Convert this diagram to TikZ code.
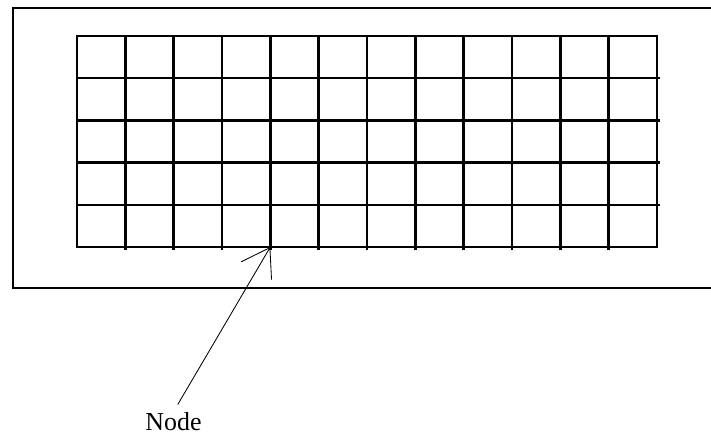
\documentclass[tikz,border=0pt]{standalone}
\usepackage{fontspec}
\setmainfont{Liberation Serif}
\usetikzlibrary{arrows.meta}

\tikzset{
    frameline/.style={line width=1.7pt},
    gridline/.style={line width=1.7pt},
    pointer/.style={line width=0.6pt, shorten <=6pt,
        -{Straight Barb[length=19pt, width=25pt]}},
    tag/.style={font=\fontsize{18.4}{22}\selectfont, anchor=base, inner sep=0pt}
}

\begin{document}
\begin{tikzpicture}[x=0.025cm, y=-0.025cm]

        \useasboundingbox (0,0) rectangle (711,435);

        % Outer frame (runs off to the right)
        \draw[frameline] (711,8) -- (13,8) -- (13,288) -- (711,288);

        % Mesh: 12 columns by 5 rows
        \draw[gridline] (77,36) rectangle (657,247);
        \foreach \i in {1,...,11}
            \draw[gridline] (77+48.333*\i,36) -- (77+48.333*\i,249.5);
        \foreach \j in {1,...,4}
            \draw[gridline] (77,36+42.2*\j) -- (660,36+42.2*\j);

        % Label pointing at one mesh node
        \coordinate (meshnode) at (270.3,247);
        \node[tag] (label) at (173.5,430) {Node};
        \draw[pointer] (label.north) -- (meshnode);

    \end{tikzpicture}
\end{document}
